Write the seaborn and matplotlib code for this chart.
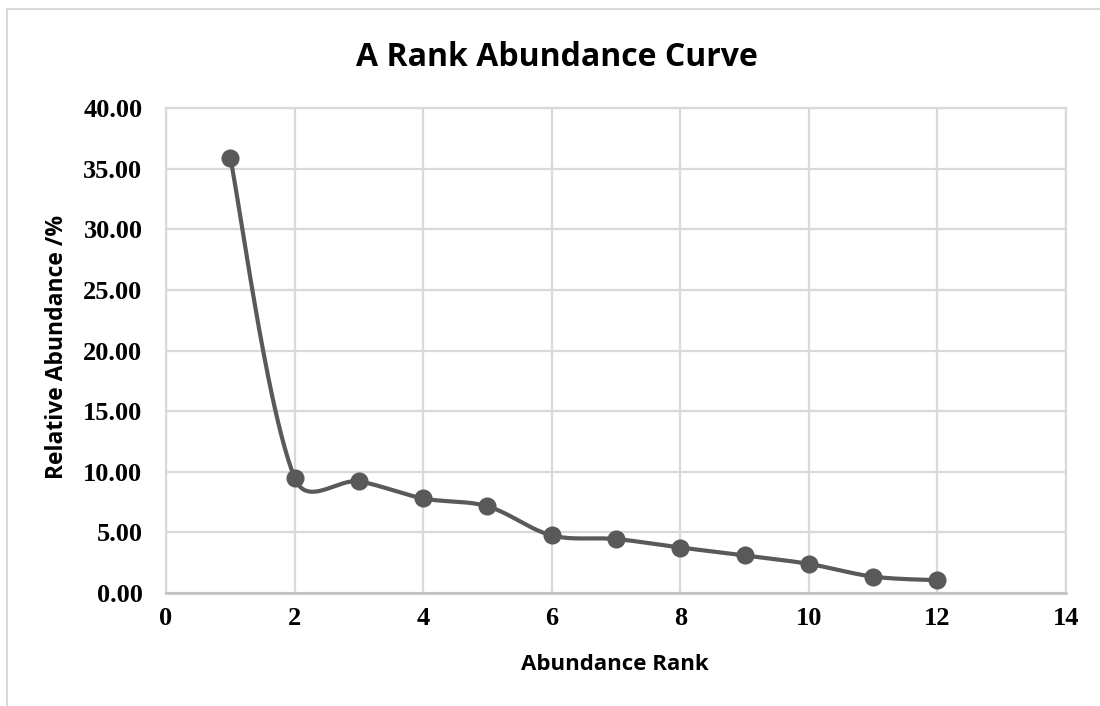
import numpy as np
import pandas as pd
import matplotlib
matplotlib.use("Agg")
import matplotlib.pyplot as plt
import seaborn as sns
from matplotlib.patches import Rectangle

# values
ranks = [1, 2, 3, 4, 5, 6, 7, 8, 9, 10, 11, 12]
abundance = [35.9, 9.5, 9.2, 7.8, 7.15, 4.75, 4.45, 3.75, 3.1, 2.4, 1.35, 1.05]
x_ticks = [0, 2, 4, 6, 8, 10, 12, 14]
y_ticks = [0, 5, 10, 15, 20, 25, 30, 35, 40]

df = pd.DataFrame({"rank": ranks, "abundance": abundance})

# pixel size of one data unit, used so the smoothing behaves like on screen
SX, SY = 64.3, 12.13


def smooth_curve(xs, ys, n=50):
    # Excel-like smoothed line: cubic bezier segments, catmull-rom tangents
    # weighted by the lengths of the neighbouring segments
    pts = np.column_stack([np.asarray(xs, float), np.asarray(ys, float)])
    scale = np.array([SX, SY])
    m = len(pts)
    tang = []
    for i in range(m):
        p0 = pts[max(i - 1, 0)]
        p2 = pts[min(i + 1, m - 1)]
        tang.append((p2 - p0) / 6)
    dist = [np.linalg.norm((pts[i + 1] - pts[i]) * scale) for i in range(m - 1)]
    out = []
    for i in range(m - 1):
        p1, p2 = pts[i], pts[i + 1]
        w_out = 1.0
        if i > 0:
            w_out = np.sqrt(2 * dist[i] / (dist[i - 1] + dist[i]))
        w_in = 1.0
        if i + 1 < m - 1:
            w_in = np.sqrt(2 * dist[i] / (dist[i] + dist[i + 1]))
        c1 = p1 + tang[i] * w_out
        c2 = p2 - tang[i + 1] * w_in
        t = np.linspace(0, 1, n)[:, None]
        seg = ((1 - t) ** 3) * p1 + 3 * ((1 - t) ** 2) * t * c1 + 3 * (1 - t) * t ** 2 * c2 + t ** 3 * p2
        out.append(seg if i == 0 else seg[1:])
    seg = np.vstack(out)
    return pd.DataFrame({"rank": seg[:, 0], "abundance": seg[:, 1]})


curve = smooth_curve(df["rank"], df["abundance"])

sns.set_style("white")
fig = plt.figure(figsize=(11, 7.06), dpi=100)
ax = fig.add_axes([166 / 1100, 1 - 593 / 706, (1066 - 166) / 1100, (593 - 108) / 706])

line_col = "#595959"
sns.lineplot(data=curve, x="rank", y="abundance", ax=ax, color=line_col,
             linewidth=3, sort=False, estimator=None)
sns.scatterplot(data=df, x="rank", y="abundance", ax=ax, color=line_col,
                s=170, edgecolor=line_col, linewidth=0, zorder=5)

ax.set_xlim(0, 14)
ax.set_ylim(0, 40)
ax.set_xticks(x_ticks)
ax.set_yticks(y_ticks)
ax.set_yticklabels([f"{v:.2f}" for v in y_ticks])
ax.grid(True, color="#d9d9d9", linewidth=1.6)
ax.set_axisbelow(True)
for side in ["top", "right", "left"]:
    ax.spines[side].set_color("#d9d9d9")
    ax.spines[side].set_linewidth(1.6)
ax.spines["bottom"].set_color("#bfbfbf")
ax.spines["bottom"].set_linewidth(1.8)
ax.tick_params(axis="y", length=0, pad=17)
ax.tick_params(axis="x", length=0, pad=10)

for lab in ax.get_xticklabels() + ax.get_yticklabels():
    lab.set_fontfamily("Liberation Serif")
    lab.set_fontweight("bold")
    lab.set_fontsize(19)
    lab.set_color("black")

ax.set_xlabel("")
ax.set_ylabel("")
fig.text(615 / 1100, 1 - 665 / 706, "Abundance Rank", ha="center", va="center",
         fontsize=16, fontweight="bold", family="Open Sans", color="black")
fig.text(57 / 1100, 1 - 347 / 706, "Relative Abundance /%", ha="center", va="center",
         rotation=90, fontsize=16.5, fontweight="bold", family="Open Sans", color="black")
fig.text(557 / 1100, 1 - 57 / 706, "A Rank Abundance Curve", ha="center", va="center",
         fontsize=23, fontweight="bold", family="Open Sans", color="black")

# light chart-area border
fig.patches.append(Rectangle((7 / 1100, -0.05), 1.2, 1 - 9 / 706 + 0.05,
                             transform=fig.transFigure, fill=False,
                             edgecolor="#d9d9d9", linewidth=1.5))

fig.savefig("out.png", dpi=100, facecolor="white")
